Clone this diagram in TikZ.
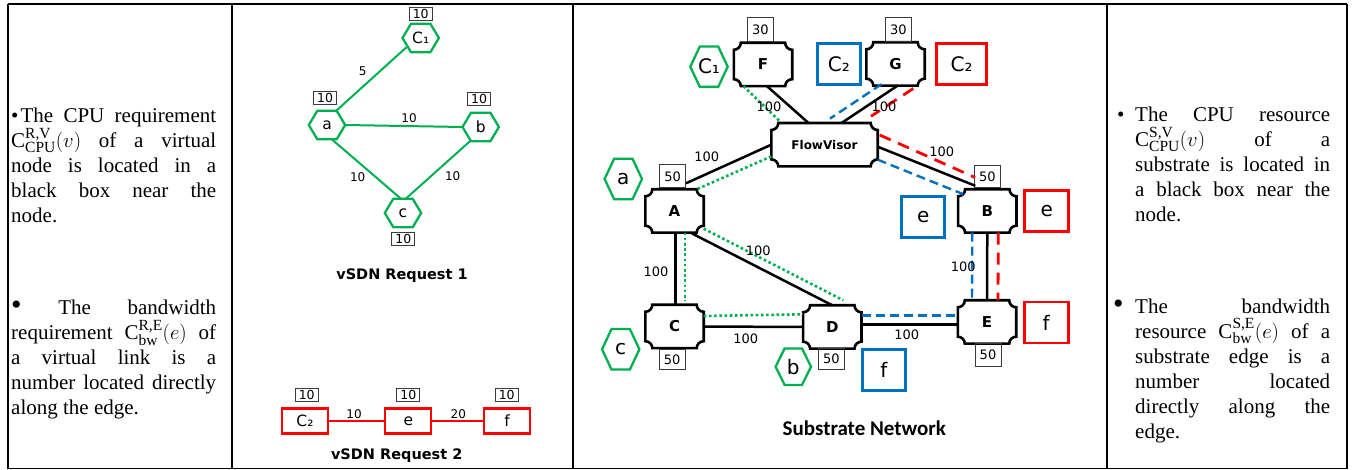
\documentclass[tikz,border=0pt]{standalone}
\usepackage{fontspec}
\setmainfont{Liberation Serif}
\newfontfamily\dv{DejaVu Sans}
\newfontfamily\carl{Carlito}
\usetikzlibrary{calc}
\definecolor{vgreen}{RGB}{0,176,80}
\definecolor{vblue}{RGB}{0,112,192}
\definecolor{vred}{RGB}{255,0,0}
\definecolor{boxgray}{RGB}{60,60,60}
\newcommand\hexo[3]{\draw[#2] (#1.west) -- ([xshift=#3]#1.north west) -- ([xshift=-#3]#1.north east) -- (#1.east) -- ([xshift=-#3]#1.south east) -- ([xshift=#3]#1.south west) -- cycle;}
\newcommand\plaq[1]{\draw[plaqline] ([xshift=7pt]#1.north west) -- ([xshift=-7pt]#1.north east) arc[start angle=180,end angle=270,radius=7pt] -- ([yshift=7pt]#1.south east) arc[start angle=90,end angle=180,radius=7pt] -- ([xshift=7pt]#1.south west) arc[start angle=0,end angle=90,radius=7pt] -- ([yshift=-7pt]#1.north west) arc[start angle=-90,end angle=0,radius=7pt] -- cycle;}
\newcommand\capc[2]{$\mbox{C}^{\mbox{\fontsize{15.5}{15.5}\selectfont #1}}_{\mbox{\fontsize{15.5}{15.5}\selectfont #2}}$}
\tolerance=10000
\hbadness=10000
\tikzset{
  frameline/.style={black, line width=2pt},
  para/.style={anchor=base west, inner sep=0pt, align=justify, font=\fontsize{21}{25}\selectfont},
  bul/.style={anchor=base west, inner sep=0pt, font=\fontsize{21}{25}\selectfont},
  vbox/.style={draw=boxgray, line width=0.9pt, inner sep=0pt, minimum width=23pt, minimum height=13pt, font=\dv\fontsize{12.5}{12.5}\selectfont},
  hexn/.style={inner sep=0pt, minimum width=36pt, minimum height=28pt, font=\dv\fontsize{15.5}{15.5}\selectfont},
  ghex/.style={vgreen, line width=2.3pt},
  rbox/.style={draw=vred, line width=2.3pt, minimum width=46pt, minimum height=25pt, inner sep=0pt, font=\dv\fontsize{15.5}{15.5}\selectfont},
  glink/.style={vgreen, line width=2pt},
  rlink/.style={vred, line width=2pt},
  elbl/.style={font=\dv\fontsize{12}{12}\selectfont, inner sep=0pt},
  captxt/.style={font=\dv\bfseries\fontsize{14.5}{14.5}\selectfont, inner sep=0pt},
  plaquen/.style={minimum width=58pt, minimum height=43pt, inner sep=0pt, font=\dv\bfseries\fontsize{15}{15}\selectfont},
  plaqline/.style={black, line width=2.6pt},
  sbox/.style={draw=boxgray, line width=1pt, inner sep=0pt, minimum width=26pt, minimum height=22pt, font=\dv\fontsize{13}{13}\selectfont},
  slbl/.style={font=\dv\fontsize{13}{13}\selectfont, inner sep=0pt},
  shex/.style={inner sep=0pt, minimum width=37pt, minimum height=40pt, font=\dv\fontsize{20}{20}\selectfont},
  bbox/.style={draw=vblue, line width=2.8pt, minimum width=43pt, minimum height=41pt, inner sep=0pt, font=\dv\fontsize{20}{20}\selectfont},
  redbox/.style={draw=vred, line width=2.8pt, minimum width=44pt, minimum height=41pt, inner sep=0pt, font=\dv\fontsize{20}{20}\selectfont},
  sline/.style={black, line width=2.5pt},
  gdot/.style={vgreen, line width=2.6pt, dash pattern=on 2.6pt off 2.6pt},
  bdash/.style={vblue, line width=2.4pt, dash pattern=on 9pt off 5pt},
  rdash/.style={vred, line width=2.8pt, dash pattern=on 12pt off 8pt},
}
\begin{document}
\begin{tikzpicture}[x=1pt, y=-1pt]
\useasboundingbox (0,0) rectangle (1355,470);
% table frame
\draw[frameline] (8,4.5) -- (1347,4.5);
\draw[frameline] (8,4.5) -- (8,468.5);
\draw[black, line width=1.5pt] (8,468.5) -- (1347,468.5);
\draw[black, line width=1.5pt] (1347,4.5) -- (1347,468.5);
\draw[frameline] (231.5,4.5) -- (231.5,468.5);
\draw[frameline] (573.3,4.5) -- (573.3,468.5);
\draw[frameline] (1106.5,4.5) -- (1106.5,468.5);

% left column text
\node[para, text width=205pt] (L1) at (11,123) {\textbullet\hspace{2pt}The CPU requirement\linebreak \capc{R,V}{CPU}$(v)$ of a virtual\linebreak node is located in a\linebreak black box near the\linebreak node.};
\node[para, text width=205pt] (L2) at (11,315) {{\fontsize{30}{25}\selectfont\textbullet}\ The bandwidth\linebreak requirement \capc{R,E}{bw}$(e)$ of\linebreak a virtual link is a\linebreak number located directly\linebreak along the edge.};

% right column text
\node[bul] (RB1) at (1117,122) {\textbullet};
\node[para, text width=195pt] (R1) at (1135,122) {The CPU resource\linebreak \capc{S,V}{CPU}$(v)$ of a\linebreak substrate is located in\linebreak a black box near the\linebreak node.};
\node[bul, font=\fontsize{30}{25}\selectfont] (RB2) at (1113,313.5) {\textbullet};
\node[para, text width=195pt] (R2) at (1135,313.5) {The bandwidth\linebreak resource \capc{S,E}{bw}$(e)$ of a\linebreak substrate edge is a\linebreak number located\linebreak directly along the\linebreak edge.};

% vSDN request 1
\node[hexn] (qC1) at (420.7,38) {C₁};
\node[hexn] (qa) at (327,125) {a};
\node[hexn] (qb) at (480.7,127) {b};
\node[hexn] (qc) at (403,213) {c};
\hexo{qC1}{ghex}{8.5pt}
\hexo{qa}{ghex}{8.5pt}
\hexo{qb}{ghex}{8.5pt}
\hexo{qc}{ghex}{8.5pt}
\node[vbox] (qvC1) at (420.7,14) {10};
\node[vbox] (qva) at (325,97.5) {10};
\node[vbox] (qvb) at (479,98.5) {10};
\node[vbox] (qvc) at (403.3,238.8) {10};
\draw[glink] ([xshift=-9pt]qa.north east) -- ([xshift=4pt,yshift=5pt]qC1.south west);
\draw[glink] (qa.east) -- (qb.west);
\draw[glink] ([xshift=4.7pt]qa.south) -- ([xshift=-2pt]qc.north);
\draw[glink] ([xshift=-10.7pt]qb.south) -- ([xshift=2.7pt]qc.north);
\node[elbl] (ql1) at (362.7,71) {5};
\node[elbl] (ql2) at (409,118) {10};
\node[elbl] (ql3) at (357.7,177) {10};
\node[elbl] (ql4) at (452.7,176) {10};
\node[captxt] (cap1) at (402,276) {vSDN Request 1};

% vSDN request 2
\node[rbox] (wC2) at (305,421) {C₂};
\node[rbox] (we) at (408.3,421) {e};
\node[rbox] (wf) at (507,421) {f};
\node[vbox] (wvC2) at (306.7,394.5) {10};
\node[vbox] (wve) at (408.3,394.5) {10};
\node[vbox] (wvf) at (506.7,394.5) {10};
\draw[rlink] (wC2.east) -- (we.west);
\draw[rlink] (we.east) -- (wf.west);
\node[elbl] (wl1) at (354,414.3) {10};
\node[elbl] (wl2) at (458.3,414) {20};
\node[captxt] (cap2) at (396.7,456) {vSDN Request 2};

% substrate network nodes
\node[plaquen] (F) at (763,64.5) {F};
\node[plaquen] (G) at (895.5,64) {G};
\node[plaquen, minimum width=106pt, font=\dv\bfseries\fontsize{12}{12}\selectfont] (FV) at (824.5,144.7) {FlowVisor};
\node[plaquen] (A) at (674.5,211) {A};
\node[plaquen] (B) at (987.3,211) {B};
\node[plaquen] (C) at (674.5,326.5) {C};
\node[plaquen] (D) at (832.3,327) {D};
\node[plaquen] (E) at (987,322) {E};
\plaq{F}\plaq{G}\plaq{FV}\plaq{A}\plaq{B}\plaq{C}\plaq{D}\plaq{E}

\node[sbox, minimum height=24pt] (F30) at (760.3,29.7) {30};
\node[sbox, minimum height=24pt] (G30) at (898.3,29.7) {30};
\node[sbox, minimum height=23pt] (A50) at (672.7,176.5) {50};
\node[sbox] (B50) at (987.3,177) {50};
\node[sbox, minimum height=20pt] (C50) at (672.2,359.5) {50};
\node[sbox, minimum height=20pt] (D50) at (831.3,359) {50};
\node[sbox] (E50) at (988,355) {50};

\node[shex] (sC1) at (709,66.7) {C₁};
\node[shex] (sa) at (623.3,179) {a};
\node[shex] (sc) at (620.7,349.3) {c};
\node[shex, minimum width=35pt, minimum height=36pt] (sb) at (793.3,366.7) {b};
\hexo{sC1}{ghex}{9.5pt}
\hexo{sa}{ghex}{9.5pt}
\hexo{sc}{ghex}{9.5pt}
\hexo{sb}{ghex}{9pt}

\node[bbox] (bC2) at (838.8,64.2) {C₂};
\node[bbox] (be) at (923.3,217) {e};
\node[bbox] (bf) at (883.8,369.7) {f};
\node[redbox, minimum width=50pt] (rC2) at (961.7,64.2) {C₂};
\node[redbox] (re) at (1046.7,210.8) {e};
\node[redbox] (rf) at (1046.2,322.5) {f};

% substrate links
\draw[sline] ([xshift=4pt]F.south) -- ([xshift=-16pt]FV.north);
\draw[sline] ([xshift=2pt]G.south) -- ([xshift=17pt]FV.north);
\draw[sline] (FV.west) -- ([xshift=11.5pt,yshift=6pt]A.north);
\draw[sline] ([yshift=-2pt]FV.east) -- ([xshift=-12pt,yshift=3.5pt]B.north);
\draw[sline] ([xshift=1pt]A.south) -- ([xshift=1pt]C.north);
\draw[sline] ([xshift=16pt]A.south) -- (D.north);
\draw[sline] (C.east) -- (D.west);
\draw[sline] ([yshift=2.7pt]D.east) -- ([yshift=-2.3pt]E.west);
\draw[sline] (B.south) -- (E.north);

% vSDN 1 mapping
\draw[gdot] ([xshift=-19.5pt]F.south) -- ([xshift=-45pt,yshift=2pt]FV.north);
\draw[gdot] ([yshift=10pt]FV.south west) -- ([xshift=-7pt]A.north east);
\draw[gdot] ([xshift=10.5pt]A.south) -- ([xshift=10.5pt,yshift=4pt]C.north);
\draw[gdot] ([yshift=4pt]A.south east) -- ([xshift=11pt,yshift=5pt]D.north);
\draw[gdot] ([yshift=10.5pt]C.east) -- ([yshift=12.7pt]D.west);

% vSDN 2 mapping (blue)
\draw[bdash] ([xshift=-14pt,yshift=1.5pt]G.south) -- ([xshift=5.5pt,yshift=4.4pt]FV.north);
\draw[bdash] ([yshift=-15pt]FV.east) -- ([xshift=5pt,yshift=-4.8pt]B.north west);
\draw[bdash] ([xshift=-15pt]B.south) -- ([xshift=-15pt]E.north);
\draw[bdash] ([yshift=11.3pt]D.east) -- ([yshift=6.3pt]E.west);

% vSDN 2 mapping (red)
\draw[rdash] ([xshift=17.8pt,yshift=-2.8pt]G.south) -- ([xshift=-6.7pt,yshift=6.7pt]FV.north east);
\draw[rdash] ([xshift=2pt,yshift=9.7pt]FV.east) -- ([xshift=-12.3pt,yshift=11.8pt]B.north);
\draw[rdash] ([xshift=11pt]B.south) -- ([xshift=11pt]E.north);

% link capacities
\node[slbl] (s1) at (769,106.7) {100};
\node[slbl] (s2) at (884,106.7) {100};
\node[slbl] (s3) at (706.7,156.7) {100};
\node[slbl] (s4) at (941.7,151.7) {100};
\node[slbl] (s5) at (656,271.7) {100};
\node[slbl] (s6) at (758.3,250.7) {100};
\node[slbl] (s7) at (745.7,339) {100};
\node[slbl] (s8) at (906.7,334.3) {100};
\node[slbl] (s9) at (963.3,266.7) {100};

\node[font=\carl\bfseries\fontsize{21}{21}\selectfont, inner sep=0pt] (capS) at (864.3,428.3) {Substrate Network};
\end{tikzpicture}
\end{document}
